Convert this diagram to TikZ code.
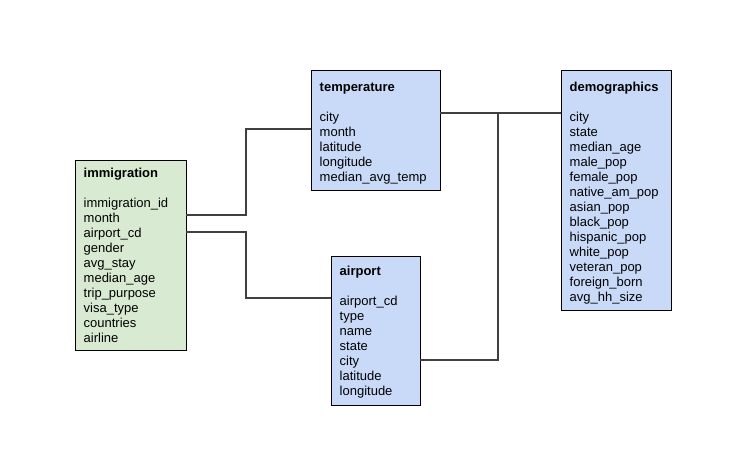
\documentclass[tikz,border=0pt]{standalone}
\usepackage{fontspec}
\setmainfont{Liberation Sans}
\definecolor{tgreen}{HTML}{D9EAD3}
\definecolor{tblue}{HTML}{C9DAF8}
\definecolor{conn}{HTML}{404040}
\begin{document}
\begin{tikzpicture}[x=1pt,y=-1pt,
  tbox/.style={draw=black, line width=0.8pt, anchor=north west, inner sep=0pt, outer sep=0pt},
  ttext/.style={anchor=north west, inner sep=0pt, align=left, font=\fontsize{13}{15}\selectfont},
  link/.style={draw=conn, line width=1.6pt}]
\useasboundingbox (0,0) rectangle (750,460);
\fill[white] (0,0) rectangle (750,460);
% boxes
\node[tbox, fill=tgreen, minimum width=111pt, minimum height=190pt] (imm) at (75,160) {};
\node[tbox, fill=tblue, minimum width=129pt, minimum height=120pt] (temp) at (311,70) {};
\node[tbox, fill=tblue, minimum width=110pt, minimum height=240pt] (demo) at (561,70) {};
\node[tbox, fill=tblue, minimum width=89pt, minimum height=149pt] (air) at (331,256) {};
% texts
\node[ttext] (immt) at (83.5,167) {\rule{0pt}{10pt}\textbf{immigration}\\[15pt]
  immigration\_id\\ month\\ airport\_cd\\ gender\\ avg\_stay\\ median\_age\\ trip\_purpose\\ visa\_type\\ countries\\ airline};
\node[ttext] (tempt) at (319.5,81) {\rule{0pt}{10pt}\textbf{temperature}\\[15pt]
  city\\ month\\ latitude\\ longitude\\ median\_avg\_temp};
\node[ttext] (demot) at (569.5,81) {\rule{0pt}{10pt}\textbf{demographics}\\[15pt]
  city\\ state\\ median\_age\\ male\_pop\\ female\_pop\\ native\_am\_pop\\ asian\_pop\\ black\_pop\\ hispanic\_pop\\ white\_pop\\ veteran\_pop\\ foreign\_born\\ avg\_hh\_size};
\node[ttext] (airt) at (339.5,265.5) {\rule{0pt}{10pt}\textbf{airport}\\[15pt]
  airport\_cd\\ type\\ name\\ state\\ city\\ latitude\\ longitude};
% connectors
\coordinate (j1) at (246,215);
\coordinate (j2) at (246,129);
\coordinate (j3) at (246,232);
\coordinate (j4) at (246,298);
\coordinate (j5) at (498,113);
\coordinate (j6) at (498,360);
\draw[link] (imm.east |- j1) -- (j1) -- (j2) -- (temp.west |- j2);
\draw[link] (imm.east |- j3) -- (j3) -- (j4) -- (air.west |- j4);
\draw[link] (temp.east |- j5) -- (demo.west |- j5);
\draw[link] (air.east |- j6) -- (j6) -- (j5);
\end{tikzpicture}
\end{document}
